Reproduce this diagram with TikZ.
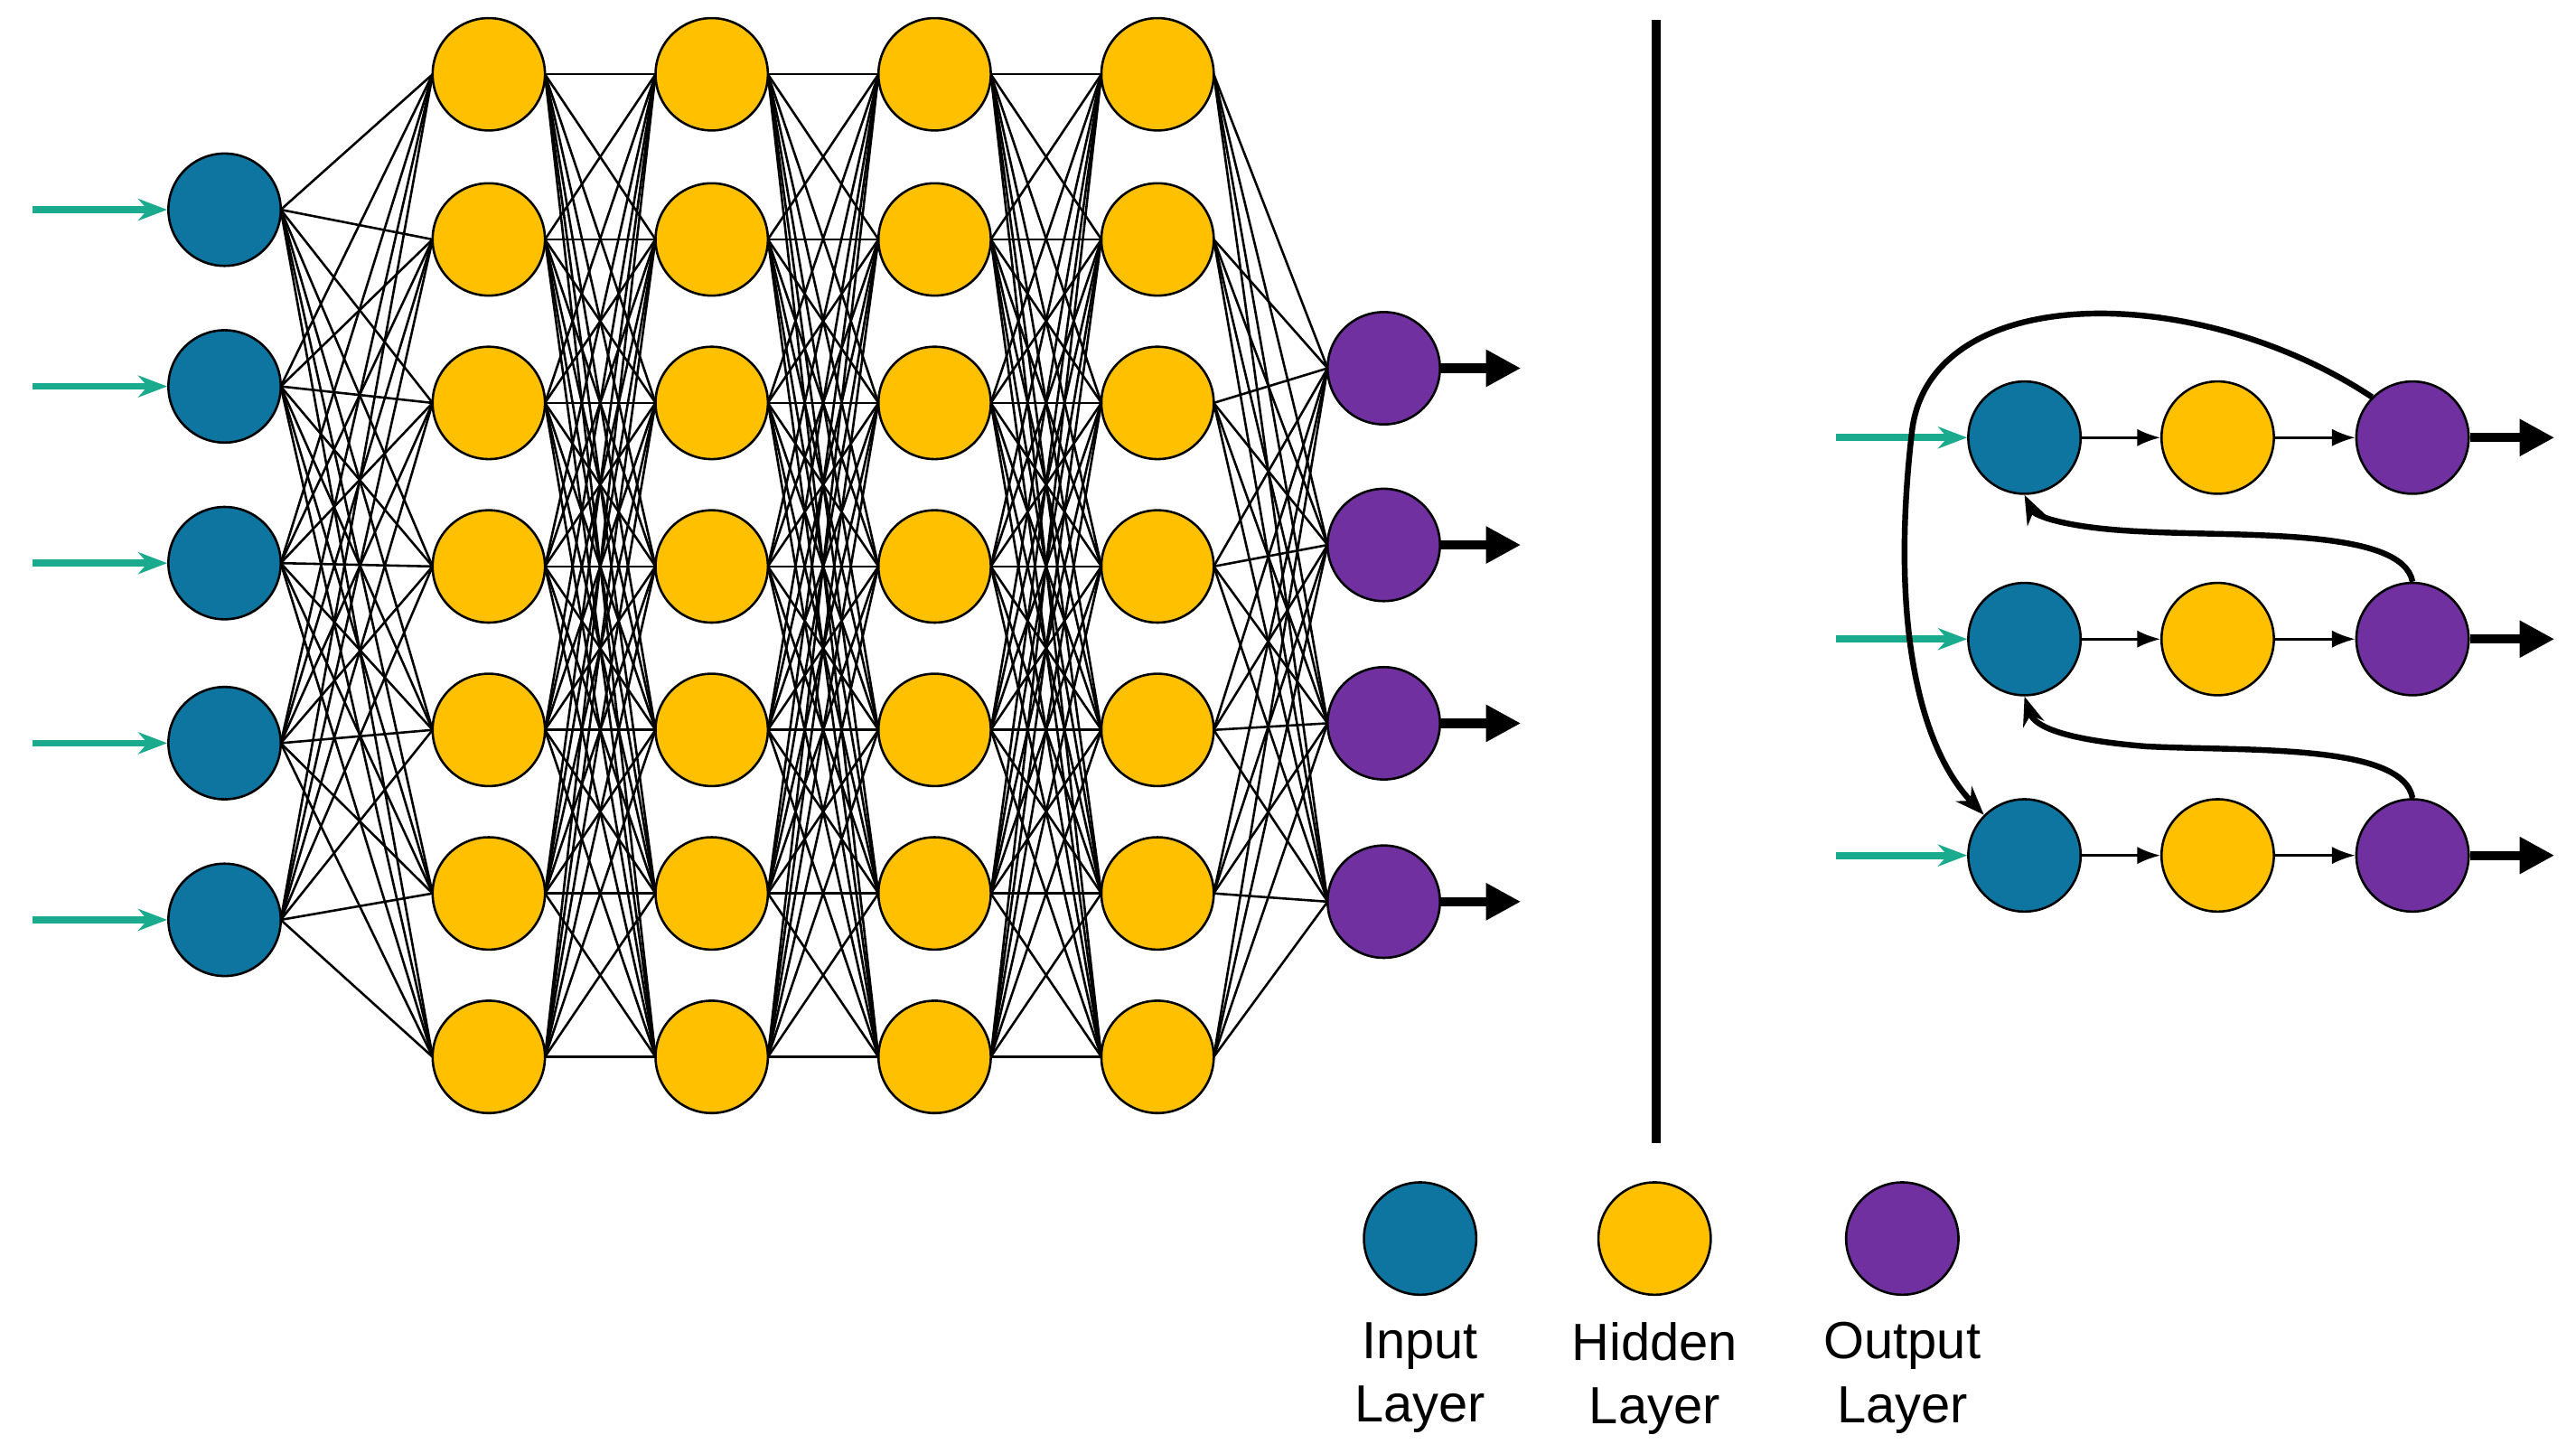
\documentclass[tikz,border=0pt]{standalone}
\usepackage{fontspec}
\setmainfont{Liberation Sans}
\usetikzlibrary{arrows.meta,positioning}
\definecolor{inblue}{HTML}{0E74A0}
\definecolor{hidyel}{HTML}{FFC000}
\definecolor{outpur}{HTML}{7030A0}
\definecolor{ingreen}{HTML}{1AAA8E}
\begin{document}
\begin{tikzpicture}[x=0.01cm, y=-0.01cm]
                  \tikzstyle{neuron}=[circle, draw=black, minimum size=0.68cm, inner sep=0pt]
                  \tikzstyle{inp}=[neuron, fill=inblue]
                  \tikzstyle{hidn}=[neuron, fill=hidyel]
                  \tikzstyle{outp}=[neuron, fill=outpur]
                  \tikzstyle{feed}=[-{Stealth[length=5pt]}, line width=1.2pt, ingreen]
                  \tikzstyle{emit}=[-{Triangle[length=6pt,width=6pt]}, line width=1.6pt]
                  \tikzstyle{rec}=[-{Stealth[length=5pt]}, line width=1pt]
                  \useasboundingbox (0,0) rectangle (1560,874);

                  % feed-forward network: connections first, nodes on top
                  \foreach \y [count=\i] in {127,234,341,450,557}
                    \coordinate (ci\i) at (136,\y);
                  \foreach \x [count=\c] in {296,431,566,701}
                    \foreach \y [count=\r] in {45,145,244,343,442,541,640}
                      \coordinate (ch\c-\r) at (\x,\y);
                  \foreach \y [count=\i] in {223,330,438,546}
                    \coordinate (co\i) at (838,\y);
                  \begin{scope}[line width=0.4pt]
                    \foreach \a in {1,...,5}
                      \foreach \b in {1,...,7}
                        \draw ([xshift=0.34cm]ci\a) -- ([xshift=-0.34cm]ch1-\b);
                    \foreach \c [evaluate=\c as \n using int(\c+1)] in {1,2,3}
                      \foreach \a in {1,...,7}
                        \foreach \b in {1,...,7}
                          \draw ([xshift=0.34cm]ch\c-\a) -- ([xshift=-0.34cm]ch\n-\b);
                    \foreach \a in {1,...,7}
                      \foreach \b in {1,...,4}
                        \draw ([xshift=0.34cm]ch4-\a) -- ([xshift=-0.34cm]co\b);
                  \end{scope}
                  \foreach \i in {1,...,5}{
                    \node[inp] (i\i) at (ci\i) {};
                    \coordinate (s\i) at ([xshift=-1.16cm]ci\i);
                    \draw[feed] (s\i) -- (i\i);
                  }
                  \foreach \c in {1,...,4}
                    \foreach \r in {1,...,7}
                      \node[hidn] (h\c-\r) at (ch\c-\r) {};
                  \foreach \i in {1,...,4}{
                    \node[outp] (o\i) at (co\i) {};
                    \coordinate (e\i) at ([xshift=0.83cm]co\i);
                    \draw[emit] (o\i) -- (e\i);
                  }

                  % divider
                  \coordinate (d1) at (1003,12);
                  \coordinate (d2) at (1003,692);
                  \draw[line width=1.6pt] (d1) -- (d2);

                  % recurrent network
                  \foreach \y [count=\r] in {265,387,518}{
                    \node[inp]  (ri\r) at (1226,\y) {};
                    \node[hidn] (rh\r) at (1343,\y) {};
                    \node[outp] (ro\r) at (1461,\y) {};
                    \coordinate (rs\r) at (1112,\y);
                    \coordinate (re\r) at (1547,\y);
                    \draw[feed] (rs\r) -- (ri\r);
                    \draw[emit] (ro\r) -- (re\r);
                    \draw[-{Latex[length=4pt]}] (ri\r) -- (rh\r);
                    \draw[-{Latex[length=4pt]}] (rh\r) -- (ro\r);
                  }
                  \draw[rec] (ro1.north west) .. controls (1330,170) and (1170,170) .. (1158,260)
                    .. controls (1145,370) and (1160,450) .. (ri3.north west);
                  \draw[rec] (ro2.north) .. controls (1455,320) and (1360,325) .. (1300,322)
                    .. controls (1250,320) and (1232,312) .. (ri1.south);
                  \draw[rec] (ro3.north) .. controls (1455,450) and (1360,455) .. (1300,452)
                    .. controls (1250,448) and (1232,440) .. (ri2.south);

                  % legend
                  \node[inp]  (li) at (860,750) {};
                  \node[hidn] (lh) at (1002,750) {};
                  \node[outp] (lo) at (1152,750) {};
                  \foreach \n/\t in {li/Input, lh/Hidden, lo/Output}
                    \node[below=1pt of \n, align=center, font=\fontsize{9}{11}\selectfont] {\t\\Layer};
\end{tikzpicture}
\end{document}
